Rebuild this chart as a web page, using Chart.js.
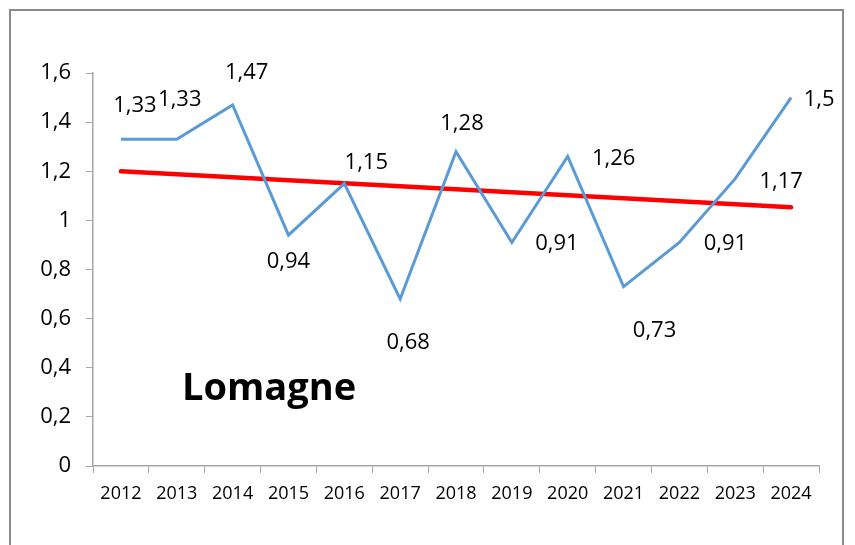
<!DOCTYPE html>
<html>
<head>
<meta charset="utf-8">
<script src="https://cdn.jsdelivr.net/npm/chart.js@4/dist/chart.umd.min.js"></script>
<style>
  html, body { margin: 0; padding: 0; background: #ffffff; }
  #wrap { position: relative; width: 855px; height: 545px; }
</style>
</head>
<body>
<div id="wrap"><canvas id="c" width="855" height="545"></canvas></div>
<script>
// ---- data ----
const years = ["2012","2013","2014","2015","2016","2017","2018","2019","2020","2021","2022","2023","2024"];
const values = [1.33, 1.33, 1.47, 0.94, 1.15, 0.68, 1.28, 0.91, 1.26, 0.73, 0.91, 1.17, 1.5];
const trendStart = 1.2;
const trendEnd = 1.053;
const valueLabels = ["1,33","1,33","1,47","0,94","1,15","0,68","1,28","0,91","1,26","0,73","0,91","1,17","1,5"];
const chartTitle = "Lomagne";

// label placement (pixel offsets from each point, as in the reference)
const labelOffsets = [[14,-34],[3,-40],[14,-32],[0,27],[22,-21],[8,44],[6,-28],[45,1],[46,2],[31,44],[46,1],[46,3],[28,2]];

const trendData = years.map((_, i) => i === 0 ? trendStart : (i === years.length - 1 ? trendEnd : null));

const decorPlugin = {
  id: 'decor',
  beforeDraw(chart) {
    const ctx = chart.ctx;
    ctx.save();
    ctx.fillStyle = '#ffffff';
    ctx.fillRect(0, 0, chart.width, chart.height);
    ctx.strokeStyle = '#8a8a8a';
    ctx.lineWidth = 2;
    ctx.strokeRect(10, 10, 833, 600);
    ctx.restore();
  },
  afterDatasetsDraw(chart) {
    const ctx = chart.ctx;
    const meta = chart.getDatasetMeta(0);
    ctx.save();
    ctx.font = '22px "Open Sans"';
    ctx.fillStyle = '#000000';
    ctx.textAlign = 'center';
    ctx.textBaseline = 'middle';
    meta.data.forEach((pt, i) => {
      const off = labelOffsets[i];
      ctx.fillText(valueLabels[i], pt.x + off[0], pt.y + off[1]);
    });
    ctx.font = 'bold 38px "Open Sans"';
    ctx.textBaseline = 'alphabetic';
    ctx.fillText(chartTitle, 269, 400);
    ctx.restore();
  }
};

new Chart(document.getElementById('c'), {
  type: 'line',
  data: {
    labels: years,
    datasets: [
      {
        data: values,
        borderColor: '#5b9bd5',
        borderWidth: 3,
        pointRadius: 0,
        tension: 0,
        fill: false
      },
      {
        data: trendData,
        borderColor: '#ff0000',
        borderWidth: 4.5,
        borderCapStyle: 'round',
        pointRadius: 0,
        spanGaps: true,
        tension: 0,
        fill: false
      }
    ]
  },
  options: {
    responsive: false,
    animation: false,
    devicePixelRatio: 1,
    layout: { padding: { left: 0, right: 36, top: 73, bottom: 0 } },
    plugins: { legend: { display: false }, tooltip: { enabled: false }, title: { display: false } },
    scales: {
      x: {
        offset: true,
        grid: {
          offset: true,
          display: true,
          drawOnChartArea: false,
          drawTicks: true,
          tickLength: 7,
          color: '#a6a6a6',
          lineWidth: 1
        },
        border: { display: true, color: '#a6a6a6', width: 1.5 },
        ticks: {
          font: { family: 'Open Sans', size: 18 },
          color: '#000000',
          padding: 10,
          maxRotation: 0,
          autoSkip: false
        },
        afterFit(scale) { scale.height = 79; }
      },
      y: {
        min: 0,
        max: 1.6,
        grid: {
          display: true,
          drawOnChartArea: false,
          drawTicks: true,
          tickLength: 7,
          color: '#a6a6a6',
          lineWidth: 1
        },
        border: { display: true, color: '#a6a6a6', width: 1.5 },
        ticks: {
          stepSize: 0.2,
          font: { family: 'Open Sans', size: 22 },
          color: '#000000',
          padding: 15,
          callback: (v) => (Math.round(v * 10) / 10).toString().replace('.', ',')
        },
        afterFit(scale) { scale.width = 93; }
      }
    }
  },
  plugins: [decorPlugin]
});
</script>
</body>
</html>
